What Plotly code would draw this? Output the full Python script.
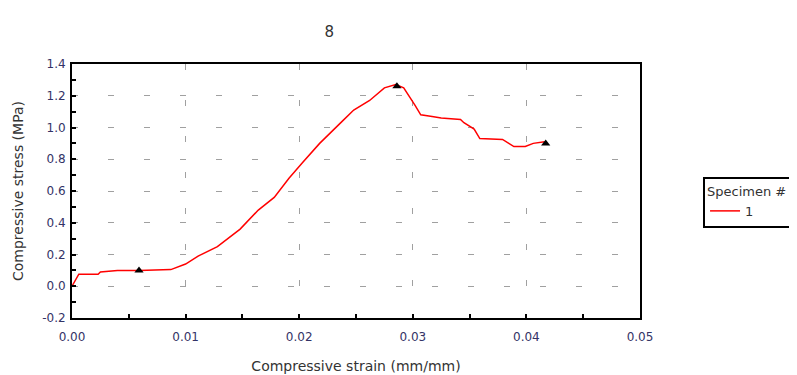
import plotly.graph_objects as go

strain = [0.0, 0.0006, 0.0023, 0.0025, 0.0040, 0.0059, 0.0087, 0.0100, 0.0111, 0.0128,
          0.0148, 0.0164, 0.0178, 0.0191, 0.0203, 0.0218, 0.0238, 0.0248, 0.0262, 0.0275,
          0.0285, 0.0292, 0.0302, 0.0307, 0.0317, 0.0325, 0.0342, 0.0345, 0.0354, 0.0359,
          0.0379, 0.0389, 0.0399, 0.0406, 0.0416]
stress = [0.0, 0.076, 0.076, 0.09, 0.10, 0.10, 0.105, 0.14, 0.19, 0.25,
          0.36, 0.48, 0.56, 0.68, 0.78, 0.90, 1.04, 1.11, 1.17, 1.25,
          1.27, 1.25, 1.14, 1.08, 1.07, 1.06, 1.05, 1.03, 0.99, 0.93,
          0.925, 0.88, 0.88, 0.90, 0.91]
mark_strain = [0.0059, 0.0286, 0.0417]
mark_stress = [0.10, 1.26, 0.90]
y_tick_vals = [-0.2, 0.0, 0.2, 0.4, 0.6, 0.8, 1.0, 1.2, 1.4]
y_tick_labels = ["-0.2", "0.0", "0.2", "0.4", "0.6", "0.8", "1.0", "1.2", "1.4"]

font = "DejaVu Sans"
fig = go.Figure()
fig.add_trace(go.Scatter(x=strain, y=stress, mode="lines", name="1",
                         line=dict(color="#ff0000", width=1.5)))
fig.add_trace(go.Scatter(x=mark_strain, y=mark_stress, mode="markers", showlegend=False,
                         marker=dict(symbol="triangle-up", size=8, color="black")))

axis_common = dict(showline=True, linecolor="black", linewidth=2, mirror=True,
                   ticks="inside", ticklen=4, tickcolor="black", tickwidth=2,
                   showgrid=True, gridcolor="#a0a0a0", gridwidth=1, griddash="6px,30px",
                   zeroline=False, automargin=False,
                   tickfont=dict(family=font, size=12, color="#333366"))
fig.update_xaxes(range=[0, 0.05], dtick=0.01, tickformat=".2f", ticklabelstandoff=7,
                 minor=dict(dtick=0.005, ticks="inside", ticklen=4, tickcolor="black", showgrid=False),
                 title=dict(text="Compressive strain (mm/mm)", standoff=18,
                            font=dict(family=font, size=14, color="#333")),
                 **axis_common)
fig.update_yaxes(range=[-0.2, 1.4], tickmode="array", tickvals=y_tick_vals, ticktext=y_tick_labels,
                 ticklabelstandoff=2,
                 minor=dict(dtick=0.1, ticks="inside", ticklen=4, tickcolor="black", showgrid=False),
                 title=dict(text="Compressive stress (MPa)", standoff=15,
                            font=dict(family=font, size=14, color="#333")),
                 **axis_common)
fig.update_layout(
    width=797, height=375,
    margin=dict(l=64, r=165, t=56, b=65),
    paper_bgcolor="white", plot_bgcolor="white",
    title=dict(text="8", x=0.403, xanchor="center", y=0.95, font=dict(family=font, size=15, color="#333")),
    legend=dict(title=dict(text="Specimen #", font=dict(family=font, size=13, color="#333")),
                x=1.111, xanchor="left", y=0.555, yanchor="top",
                bordercolor="black", borderwidth=2, font=dict(family=font, size=13, color="#333")),
    font=dict(family=font),
)
fig.write_html("out.html")
